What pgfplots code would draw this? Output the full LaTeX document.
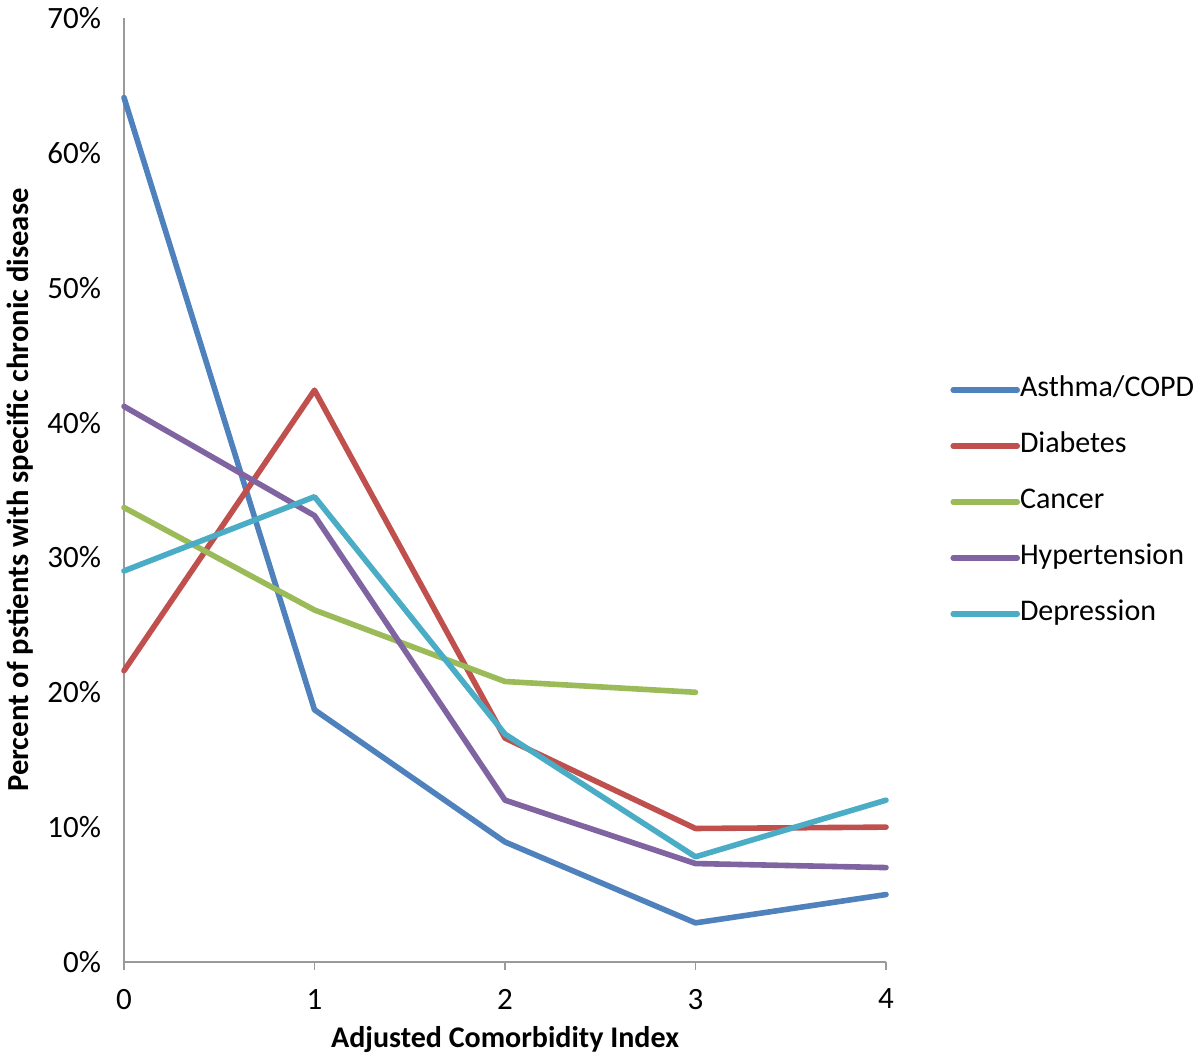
\documentclass[border=0pt]{standalone}
\usepackage{fontspec}
\setmainfont{Carlito}
\usepackage{pgfplots}
\pgfplotsset{compat=1.18}
\definecolor{cAsthma}{HTML}{4F81BD}
\definecolor{cDiab}{HTML}{C0504D}
\definecolor{cCancer}{HTML}{9BBB59}
\definecolor{cHyp}{HTML}{8064A2}
\definecolor{cDep}{HTML}{4BACC6}
\definecolor{axgray}{HTML}{9A9A9A}
\begin{document}
\begin{tikzpicture}
\useasboundingbox (-62pt,-48.5pt) rectangle (538pt,481pt);
\begin{axis}[
  at={(0pt,0pt)}, anchor=south west,
  scale only axis, width=381pt, height=472pt,
  xmin=0, xmax=4, ymin=0, ymax=70,
  clip=false,
  axis x line*=bottom, axis y line*=left,
  axis line style={draw=axgray, line width=0.8pt, -},
  xtick={0,1,2,3,4},
  xticklabels={0,1,2,3,4},
  ytick={0,10,20,30,40,50,60,70},
  yticklabels={0\%,10\%,20\%,30\%,40\%,50\%,60\%,70\%},
  x tick style={draw=axgray, line width=0.8pt},
  y tick style={draw=none},
  tick align=outside,
  major tick length=4pt,
  ticklabel style={font=\fontsize{15.5}{18}\selectfont},
  xticklabel style={yshift=-6pt},
  yticklabel style={xshift=-4pt},
  xlabel={Adjusted Comorbidity Index},
  ylabel={Percent of pstients with specific chronic disease},
  every axis x label/.style={at={(axis description cs:0.5,0)}, yshift=-39pt, anchor=center, font=\bfseries\fontsize{15}{18}\selectfont},
  every axis y label/.style={at={(axis description cs:0,0.5)}, xshift=-52pt, rotate=90, anchor=center, font=\bfseries\fontsize{15.3}{18}\selectfont},
  legend cell align=left,
  legend image code/.code={\draw[#1] (0pt,0pt) -- (32pt,0pt);},
  legend style={at={(axis description cs:1.084,0.4905)}, anchor=west, yshift=-1.5pt, draw=none, fill=none, inner sep=0pt,
    row sep=13pt, column sep=0pt,
    nodes={text height=11pt, text depth=4pt, inner sep=0pt},
    font=\fontsize{15}{18}\selectfont},
  every axis plot/.append style={line width=2.8pt, line join=round, line cap=round},
]
\addplot[cAsthma] coordinates {(0,64.1) (1,18.7) (2,8.9) (3,2.9) (4,5.0)};
\addlegendentry{Asthma/COPD}
\addplot[cDiab] coordinates {(0,21.6) (1,42.4) (2,16.6) (3,9.9) (4,10.0)};
\addlegendentry{Diabetes}
\addplot[cCancer] coordinates {(0,33.7) (1,26.1) (2,20.8) (3,20.0)};
\addlegendentry{Cancer}
\addplot[cHyp] coordinates {(0,41.2) (1,33.1) (2,12.0) (3,7.3) (4,7.0)};
\addlegendentry{Hypertension}
\addplot[cDep] coordinates {(0,29.0) (1,34.5) (2,16.9) (3,7.8) (4,12.0)};
\addlegendentry{Depression}
\end{axis}
\end{tikzpicture}
\end{document}
